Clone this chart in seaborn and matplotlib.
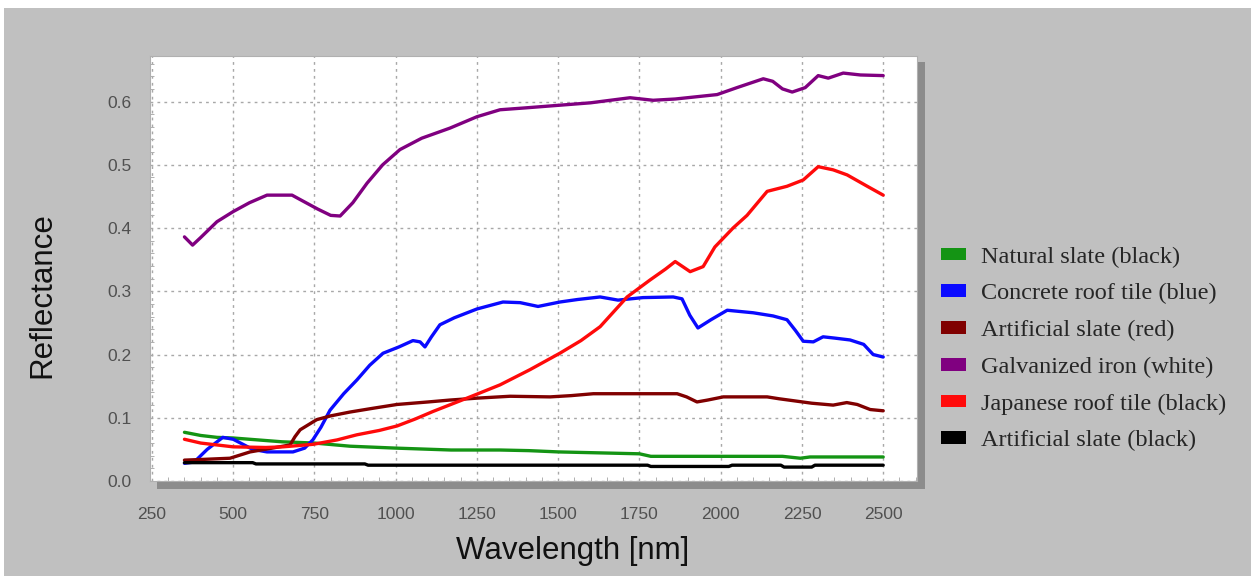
import numpy as np
import pandas as pd
import matplotlib
matplotlib.use("Agg")
import matplotlib.pyplot as plt
import matplotlib.patches as mpatches
from matplotlib.ticker import MultipleLocator, FormatStrFormatter
import seaborn as sns

# ── spectra (wavelength nm, reflectance) ──
wl_green = [350, 400, 450, 500, 550, 650, 750, 860, 1000, 1170, 1320, 1410, 1500,
            1750, 1785, 2190, 2245, 2275, 2500]
r_green = [0.077, 0.072, 0.069, 0.068, 0.066, 0.062, 0.060, 0.055, 0.052, 0.049, 0.049,
           0.048, 0.046, 0.043, 0.039, 0.039, 0.036, 0.038, 0.038]

wl_blue = [350, 380, 420, 468, 500, 560, 604, 684, 720, 745, 770, 798, 840, 881, 920,
           961, 1010, 1053, 1075, 1090, 1110, 1136, 1180, 1250, 1330, 1383, 1438, 1505,
           1560, 1629, 1684, 1761, 1854, 1881, 1905, 1930, 1970, 2020, 2100, 2161, 2204,
           2230, 2254, 2285, 2315, 2350, 2398, 2440, 2469, 2500]
r_blue = [0.028, 0.030, 0.050, 0.069, 0.066, 0.050, 0.046, 0.046, 0.052, 0.065, 0.085,
          0.112, 0.138, 0.160, 0.183, 0.202, 0.212, 0.222, 0.220, 0.212, 0.228, 0.247,
          0.258, 0.272, 0.283, 0.282, 0.276, 0.283, 0.287, 0.291, 0.286, 0.290, 0.291,
          0.288, 0.262, 0.242, 0.255, 0.270, 0.266, 0.261, 0.255, 0.238, 0.221, 0.220,
          0.228, 0.226, 0.223, 0.216, 0.200, 0.196]

wl_dred = [350, 400, 490, 552, 620, 675, 690, 706, 757, 800, 859, 930, 1004, 1100, 1167,
           1250, 1352, 1475, 1540, 1608, 1866, 1895, 1927, 1960, 2008, 2143, 2180, 2223,
           2280, 2346, 2388, 2420, 2460, 2500]
r_dred = [0.033, 0.034, 0.036, 0.046, 0.052, 0.057, 0.070, 0.081, 0.097, 0.103, 0.109,
          0.115, 0.121, 0.125, 0.128, 0.131, 0.134, 0.133, 0.135, 0.138, 0.138, 0.133,
          0.125, 0.128, 0.133, 0.133, 0.130, 0.127, 0.123, 0.120, 0.124, 0.121, 0.113,
          0.111]

wl_purple = [350, 375, 400, 450, 500, 550, 604, 681, 706, 760, 800, 829, 868, 912, 960,
             1013, 1080, 1167, 1250, 1321, 1400, 1500, 1600, 1721, 1792, 1860, 1989,
             2050, 2131, 2160, 2190, 2220, 2260, 2300, 2331, 2377, 2430, 2500]
r_purple = [0.386, 0.373, 0.385, 0.410, 0.426, 0.440, 0.452, 0.452, 0.445, 0.430, 0.420,
            0.419, 0.440, 0.471, 0.500, 0.524, 0.542, 0.558, 0.576, 0.587, 0.590, 0.594,
            0.598, 0.606, 0.602, 0.604, 0.611, 0.622, 0.636, 0.632, 0.620, 0.615, 0.622,
            0.641, 0.637, 0.645, 0.642, 0.641]

wl_red = [350, 400, 500, 600, 653, 746, 820, 880, 950, 1004, 1060, 1115, 1229, 1321,
          1413, 1505, 1570, 1629, 1712, 1783, 1830, 1860, 1906, 1946, 1982, 2038, 2081,
          2143, 2204, 2254, 2300, 2346, 2389, 2451, 2500]
r_red = [0.066, 0.060, 0.054, 0.053, 0.054, 0.058, 0.065, 0.073, 0.080, 0.087, 0.098,
         0.110, 0.133, 0.152, 0.176, 0.202, 0.222, 0.244, 0.291, 0.318, 0.335, 0.347,
         0.331, 0.339, 0.370, 0.400, 0.420, 0.458, 0.466, 0.476, 0.497, 0.492, 0.484,
         0.466, 0.452]

wl_black = [350, 560, 570, 905, 915, 1775, 1785, 2025, 2035, 2185, 2195, 2280, 2290, 2500]
r_black = [0.029, 0.029, 0.027, 0.027, 0.025, 0.025, 0.023, 0.023, 0.025, 0.025, 0.022,
           0.022, 0.025, 0.025]

materials = ["Natural slate (black)", "Concrete roof tile (blue)", "Artificial slate (red)",
             "Galvanized iron (white)", "Japanese roof tile (black)", "Artificial slate (black)"]
colors = ["#149414", "#0a0aff", "#800000", "#800080", "#ff0a0a", "#000000"]
series = [(wl_green, r_green), (wl_blue, r_blue), (wl_dred, r_dred),
          (wl_purple, r_purple), (wl_red, r_red), (wl_black, r_black)]

df = pd.concat([pd.DataFrame({"wavelength": w, "reflectance": r, "material": m})
                for (w, r), m in zip(series, materials)], ignore_index=True)

# ── style ──
sns.set_theme(style="white")
plt.rcParams['font.family'] = ['Liberation Sans', 'DejaVu Sans']

fig = plt.figure(figsize=(12.51, 5.76), dpi=100)
fig.patch.set_facecolor("#c0c0c0")
W, H = 1251, 576

# white strips at the image border
fig.patches.append(mpatches.Rectangle((0, 1 - 8 / H), 1, 8 / H, transform=fig.transFigure,
                                      facecolor="white", edgecolor="none", zorder=-2))
fig.patches.append(mpatches.Rectangle((0, 0), 4 / W, 1, transform=fig.transFigure,
                                      facecolor="white", edgecolor="none", zorder=-2))
# drop shadow behind the plot area
fig.patches.append(mpatches.Rectangle((157 / W, (H - 489) / H), 768 / W, 427 / H,
                                      transform=fig.transFigure, facecolor="#8c8c8c",
                                      edgecolor="none", zorder=-1))

ax = fig.add_axes([150 / W, (H - 481) / H, 767 / W, 425 / H])
ax.set_facecolor("white")

sns.lineplot(data=df, x="wavelength", y="reflectance", hue="material",
             hue_order=materials, palette=colors, estimator=None, sort=False,
             linewidth=2.4, legend=False, ax=ax)

ax.set_xlim(244, 2604)
ax.set_ylim(0, 0.672)
ax.xaxis.set_major_locator(MultipleLocator(250))
ax.xaxis.set_minor_locator(MultipleLocator(50))
ax.yaxis.set_major_locator(MultipleLocator(0.1))
ax.yaxis.set_minor_locator(MultipleLocator(0.02))
ax.yaxis.set_major_formatter(FormatStrFormatter("%.1f"))

ax.grid(True, which="major", linestyle=(0, (2, 3)), color="#a8a8a8", linewidth=1)
ax.tick_params(which="major", direction="out", length=4, width=0.8, color="#9a9a9a",
               labelsize=12.5, labelcolor="#505050")
ax.tick_params(axis="x", which="major", pad=15)
ax.tick_params(axis="y", which="major", pad=9)
ax.tick_params(which="minor", direction="in", length=3, width=0.7, color="#b0b0b0",
               left=True, bottom=True)
for s in ax.spines.values():
    s.set_color("#b0b0b0")
    s.set_linewidth(0.8)
ax.set_xlabel("")
ax.set_ylabel("")

fig.text(42 / W, 1 - 295 / H, "Reflectance", rotation=90, ha="center", va="center",
         fontsize=22.5, color="#111111")
fig.text(573 / W, 1 - 551 / H, "Wavelength [nm]", ha="center", va="center",
         fontsize=22.5, color="#111111")

handles = [mpatches.Patch(facecolor=c, edgecolor="none", label=m)
           for c, m in zip(colors, materials)]
fig.legend(handles=handles, loc="center left", bbox_to_anchor=(0.7525, 1 - 349 / H),
           frameon=False, prop={"family": "Liberation Serif", "size": 17.5},
           handlelength=1.0, handleheight=0.43, handletextpad=0.62, labelspacing=0.64,
           borderaxespad=0, borderpad=0)

fig.savefig("out.png", dpi=100, facecolor=fig.get_facecolor())
